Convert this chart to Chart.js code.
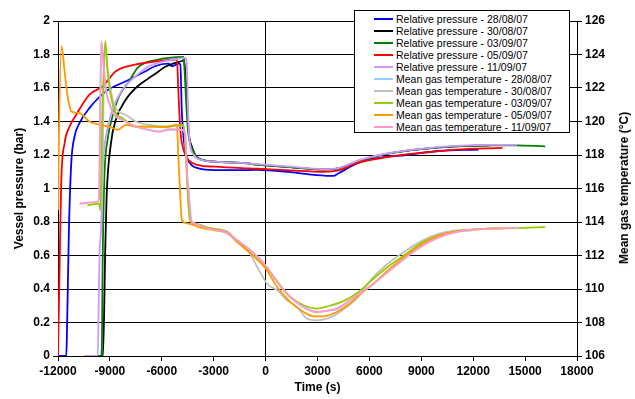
<!DOCTYPE html>
<html>
<head>
<meta charset="utf-8">
<script src="https://cdn.jsdelivr.net/npm/chart.js@4.4.0/dist/chart.umd.min.js"></script>
<style>
  body { margin: 0; background: #fff; }
  #wrap { position: relative; width: 635px; height: 399px; }
  #legend {
    position: absolute; left: 354px; top: 10px; width: 216px; height: 123px;
    box-sizing: border-box; border: 1px solid #000; background: #fff;
    padding-top: 2px; font: 10.5px "Liberation Sans", Arial, sans-serif; color: #000;
  }
  .row { position: relative; height: 12px; line-height: 12px; white-space: nowrap; }
  .sw { position: absolute; left: 19px; top: 5px; width: 19px; height: 2px; }
  .tx { position: absolute; left: 41px; top: 0; }
  #rtitle {
    position: absolute; left: 624px; top: 188px; white-space: nowrap;
    font: bold 12px "Liberation Sans", Arial, sans-serif; color: #000;
    transform: translate(-50%, -50%) rotate(-90deg);
  }
</style>
</head>
<body>
<div id="wrap">
  <canvas id="chart" width="635" height="399"></canvas>
  <div id="legend"></div>
  <div id="rtitle">Mean gas temperature (°C)</div>
</div>
<script>
// axis ticks
const xTicks = [-12000, -9000, -6000, -3000, 0, 3000, 6000, 9000, 12000, 15000, 18000];
const pressTicks = [0, 0.2, 0.4, 0.6, 0.8, 1, 1.2, 1.4, 1.6, 1.8, 2];
const tempTicks = [106, 108, 110, 112, 114, 116, 118, 120, 122, 124, 126];

// relative pressure (bar)
const tPress2808 = [-12000, -11520, -11480, -11370, -11235, -11045, -10760, -10185, -9230, -8085, -6940, -6400, -5640, -5400, -5030, -4930, -4840, -4650, -4360, -3880, -2930, -1020, -478, 1434, 2964, 3920, 4200, 5260, 6200, 8126, 10040, 12310];
const press2808 = [0, 0, 0.15, 0.75, 1.15, 1.31, 1.39, 1.48, 1.58, 1.64, 1.70, 1.73, 1.745, 1.73, 1.745, 1.74, 1.45, 1.23, 1.15, 1.12, 1.11, 1.11, 1.112, 1.098, 1.08, 1.075, 1.09, 1.148, 1.178, 1.20, 1.224, 1.232];

const tPress3008 = [-9450, -9400, -9270, -9190, -8940, -8660, -8085, -7510, -6790, -6300, -5830, -5065, -4760, -4720, -4650, -4550, -4455, -4265, -3880, -2930, -1020, -478, 1434, 3300, 4200, 5500, 7150, 9100, 11000, 13000];
const press3008 = [0, 0, 0.63, 0.95, 1.27, 1.41, 1.53, 1.60, 1.656, 1.69, 1.725, 1.755, 1.765, 1.77, 1.70, 1.55, 1.35, 1.25, 1.18, 1.16, 1.15, 1.142, 1.128, 1.114, 1.12, 1.17, 1.21, 1.236, 1.252, 1.258];

const tPress0309 = [-10000, -9520, -9465, -9420, -9325, -9135, -8850, -8470, -7890, -7360, -6210, -5600, -4740, -4680, -4610, -4490, -4265, -3880, -2930, -1020, -478, 1434, 3300, 4200, 5500, 7150, 9100, 11000, 13000, 14500, 16160];
const press0309 = [0, 0, 0.05, 0.55, 1.05, 1.29, 1.43, 1.55, 1.64, 1.725, 1.77, 1.78, 1.785, 1.70, 1.55, 1.35, 1.24, 1.18, 1.16, 1.15, 1.142, 1.128, 1.114, 1.12, 1.17, 1.21, 1.236, 1.252, 1.258, 1.258, 1.252];

const tPress0509 = [-12000, -11905, -11810, -11620, -11330, -10950, -10185, -9420, -8660, -7740, -6210, -5250, -5125, -5050, -4930, -4740, -4455, -3880, -2930, -1020, -478, 1434, 3350, 4200, 5258, 7170, 9080, 11000, 13690];
const press0509 = [0, 0.55, 1.05, 1.27, 1.37, 1.44, 1.56, 1.61, 1.70, 1.735, 1.761, 1.77, 1.77, 1.60, 1.35, 1.23, 1.17, 1.14, 1.13, 1.12, 1.118, 1.108, 1.10, 1.108, 1.152, 1.19, 1.214, 1.232, 1.242];

const tPress1109 = [-10500, -9700, -9650, -9600, -9515, -9420, -9230, -8850, -8275, -7510, -6750, -5790, -4650, -4560, -4480, -4400, -4150, -3690, -2930, -1020, -478, 1434, 3300, 4200, 5500, 7150, 9100, 11000, 13000, 14530];
const press1109 = [0, 0, 0.3, 0.6, 0.75, 1.11, 1.31, 1.47, 1.59, 1.67, 1.73, 1.76, 1.78, 1.75, 1.45, 1.29, 1.20, 1.17, 1.16, 1.15, 1.145, 1.13, 1.116, 1.122, 1.172, 1.212, 1.238, 1.254, 1.26, 1.26];

// mean gas temperature (°C)
const tTemp2808 = [-9600, -9500, -9380, -9230, -9040, -8755, -8275, -7510, -6750, -6175, -5500, -4840, -4650, -4550, -4455, -4300, -4075, -3310, -2355, -1623, -860, 0, 671, 1434, 2200, 2965, 3539, 4113, 4876, 5258, 6214, 7170, 8126, 9082, 10040, 11000, 11950];
const temp2808 = [115.3, 124.7, 123.5, 121.9, 121.1, 120.4, 120.1, 119.7, 119.5, 119.4, 119.5, 119.5, 119.3, 117.0, 115.9, 114.1, 113.9, 113.6, 113.4, 112.9, 112.3, 111.4, 110.4, 109.5, 108.9, 108.6, 108.7, 108.8, 109.3, 109.6, 110.3, 111.1, 111.9, 112.6, 113.1, 113.4, 113.5];

const tTemp3008 = [-9450, -9300, -9135, -8940, -8660, -8085, -7510, -6750, -5790, -4740, -4600, -4490, -4360, -4075, -3310, -2170, -1780, -1020, -476, 97, 671, 1245, 1818, 2392, 2965, 3539, 4113, 4686, 5260, 6214, 7170, 8126, 9082, 10040, 11000, 11570];
const temp3008 = [115.0, 124.6, 123.2, 121.8, 120.8, 120.4, 120.0, 119.8, 119.7, 119.75, 118.0, 115.5, 114.1, 113.9, 113.65, 113.4, 113.0, 112.3, 111.3, 110.3, 109.93, 109.33, 108.93, 108.23, 108.13, 108.23, 108.5, 108.93, 109.43, 110.7, 111.6, 112.3, 112.9, 113.3, 113.5, 113.55];

const tTemp0309 = [-10300, -9620, -9560, -9420, -9270, -9135, -8940, -8660, -8275, -7510, -6750, -5790, -4740, -4600, -4490, -4360, -4075, -3310, -2355, -1623, 0, 1434, 2200, 2965, 3700, 4400, 5260, 6214, 7170, 8126, 9082, 10040, 11000, 12900, 14500, 16160];
const temp0309 = [115.0, 115.1, 114.7, 121.0, 124.8, 123.0, 121.5, 120.5, 120.2, 119.7, 119.7, 119.7, 119.8, 118.0, 115.5, 114.1, 113.9, 113.65, 113.45, 112.8, 111.3, 109.52, 109.03, 108.83, 109.0, 109.23, 109.73, 110.6, 111.4, 112.1, 112.8, 113.2, 113.44, 113.6, 113.64, 113.7];

const tTemp0509 = [-12000, -11950, -11794, -11620, -11475, -11370, -11235, -10760, -10185, -9610, -9040, -8560, -8085, -7510, -6750, -5790, -5125, -5050, -4930, -4840, -4455, -3880, -2930, -2200, -1623, -860, 0, 671, 1434, 2200, 2776, 3350, 4113, 4876, 5258, 6214, 7170, 8126, 9082, 10040, 11000, 11950, 12900, 13700];
const temp0509 = [114.7, 119.0, 124.5, 123.0, 121.7, 121.1, 120.6, 120.5, 120.0, 119.8, 119.7, 119.5, 119.8, 119.7, 119.7, 119.65, 119.8, 118.0, 115.5, 114.1, 113.9, 113.7, 113.5, 113.35, 112.8, 112.11, 111.22, 110.12, 109.22, 108.63, 108.37, 108.37, 108.63, 109.13, 109.5, 110.3, 111.2, 112.0, 112.7, 113.2, 113.44, 113.54, 113.6, 113.62];

const tTemp1109 = [-10760, -9710, -9640, -9500, -9380, -9230, -9040, -8755, -8275, -7510, -6750, -6175, -5500, -4840, -4650, -4550, -4455, -4300, -4075, -3310, -2355, -1623, -860, 0, 671, 1434, 2200, 2965, 3539, 4113, 4876, 5258, 6214, 7170, 8126, 9082, 10040, 11000, 11950, 12900, 14630];
const temp1109 = [115.1, 115.2, 115.3, 124.8, 123.5, 121.9, 121.1, 120.4, 120.1, 119.7, 119.5, 119.4, 119.55, 119.5, 119.3, 117.0, 115.9, 114.1, 113.9, 113.6, 113.4, 112.9, 112.3, 111.42, 110.42, 109.52, 108.93, 108.63, 108.7, 108.83, 109.33, 109.6, 110.3, 111.1, 111.9, 112.6, 113.1, 113.4, 113.54, 113.6, 113.64];

const labels = [
  "Relative pressure - 28/08/07", "Relative pressure - 30/08/07", "Relative pressure - 03/09/07",
  "Relative pressure - 05/09/07", "Relative pressure - 11/09/07",
  "Mean gas temperature - 28/08/07", "Mean gas temperature - 30/08/07", "Mean gas temperature - 03/09/07",
  "Mean gas temperature - 05/09/07", "Mean gas temperature - 11/09/07"
];
const colors = ["#0000ff", "#000000", "#008000", "#ff0000", "#cc99ff",
                "#99ccff", "#c0c0c0", "#99cc00", "#ff9900", "#ff99cc"];

const series = [
  [tPress2808, press2808], [tPress3008, press3008], [tPress0309, press0309],
  [tPress0509, press0509], [tPress1109, press1109],
  [tTemp2808, temp2808], [tTemp3008, temp3008], [tTemp0309, temp0309],
  [tTemp0509, temp0509], [tTemp1109, temp1109]
];

const font = { family: "'Liberation Sans', Arial, sans-serif", size: 12, weight: "bold" };

const datasets = series.map((s, i) => ({
  label: labels[i],
  data: s[0].map((t, j) => ({ x: t, y: s[1][j] })),
  yAxisID: i < 5 ? "y" : "y1",
  borderColor: colors[i],
  borderWidth: 1.8,
  pointRadius: 0,
  fill: false,
  cubicInterpolationMode: "monotone",
  order: 10 - i   // later series drawn on top, like the original
}));

new Chart(document.getElementById("chart"), {
  type: "line",
  data: { datasets: datasets },
  options: {
    responsive: false,
    animation: false,
    devicePixelRatio: 1,
    layout: { padding: { top: 21, left: 0, right: 0, bottom: 0 } },
    plugins: { legend: { display: false }, tooltip: { enabled: false } },
    scales: {
      x: {
        type: "linear", min: -12000, max: 18000,
        afterBuildTicks: s => { s.ticks = xTicks.map(v => ({ value: v })); },
        afterFit: s => { s.height = 43; },
        ticks: { font: font, color: "#000", padding: 3, maxRotation: 0, autoSkip: false, callback: v => String(v) },
        grid: {
          color: c => c.tick && c.tick.value === 0 ? "#000" : "rgba(0,0,0,0)",
          tickColor: "#000", tickLength: 5, lineWidth: 1
        },
        border: { display: true, color: "#000", width: 1 },
        title: { display: true, text: "Time (s)", font: font, color: "#000", padding: { top: 0, bottom: 4 } }
      },
      y: {
        position: "left", min: 0, max: 2,
        afterBuildTicks: s => { s.ticks = pressTicks.map(v => ({ value: v })); },
        afterFit: s => { s.width = 58; },
        ticks: { font: font, color: "#000", padding: 3, callback: v => String(+v.toFixed(1)) },
        grid: { color: "#000", tickColor: "#000", tickLength: 5, lineWidth: 1 },
        border: { display: true, color: "#000", width: 1 },
        title: { display: true, text: "Vessel pressure (bar)", font: font, color: "#000", padding: { top: 12, bottom: 0 } }
      },
      y1: {
        position: "right", min: 106, max: 126,
        afterBuildTicks: s => { s.ticks = tempTicks.map(v => ({ value: v })); },
        afterFit: s => { s.width = 58; },
        ticks: { font: font, color: "#000", padding: 3 },
        grid: { drawOnChartArea: false, tickColor: "#000", tickLength: 5, lineWidth: 1 },
        border: { display: true, color: "#000", width: 1 },
        title: { display: false }
      }
    }
  }
});

// legend boxed inside the plot, top right
const legend = document.getElementById("legend");
labels.forEach((l, i) => {
  const row = document.createElement("div");
  row.className = "row";
  row.innerHTML = '<span class="sw" style="background:' + colors[i] + '"></span><span class="tx">' + l + '</span>';
  legend.appendChild(row);
});
</script>
</body>
</html>
